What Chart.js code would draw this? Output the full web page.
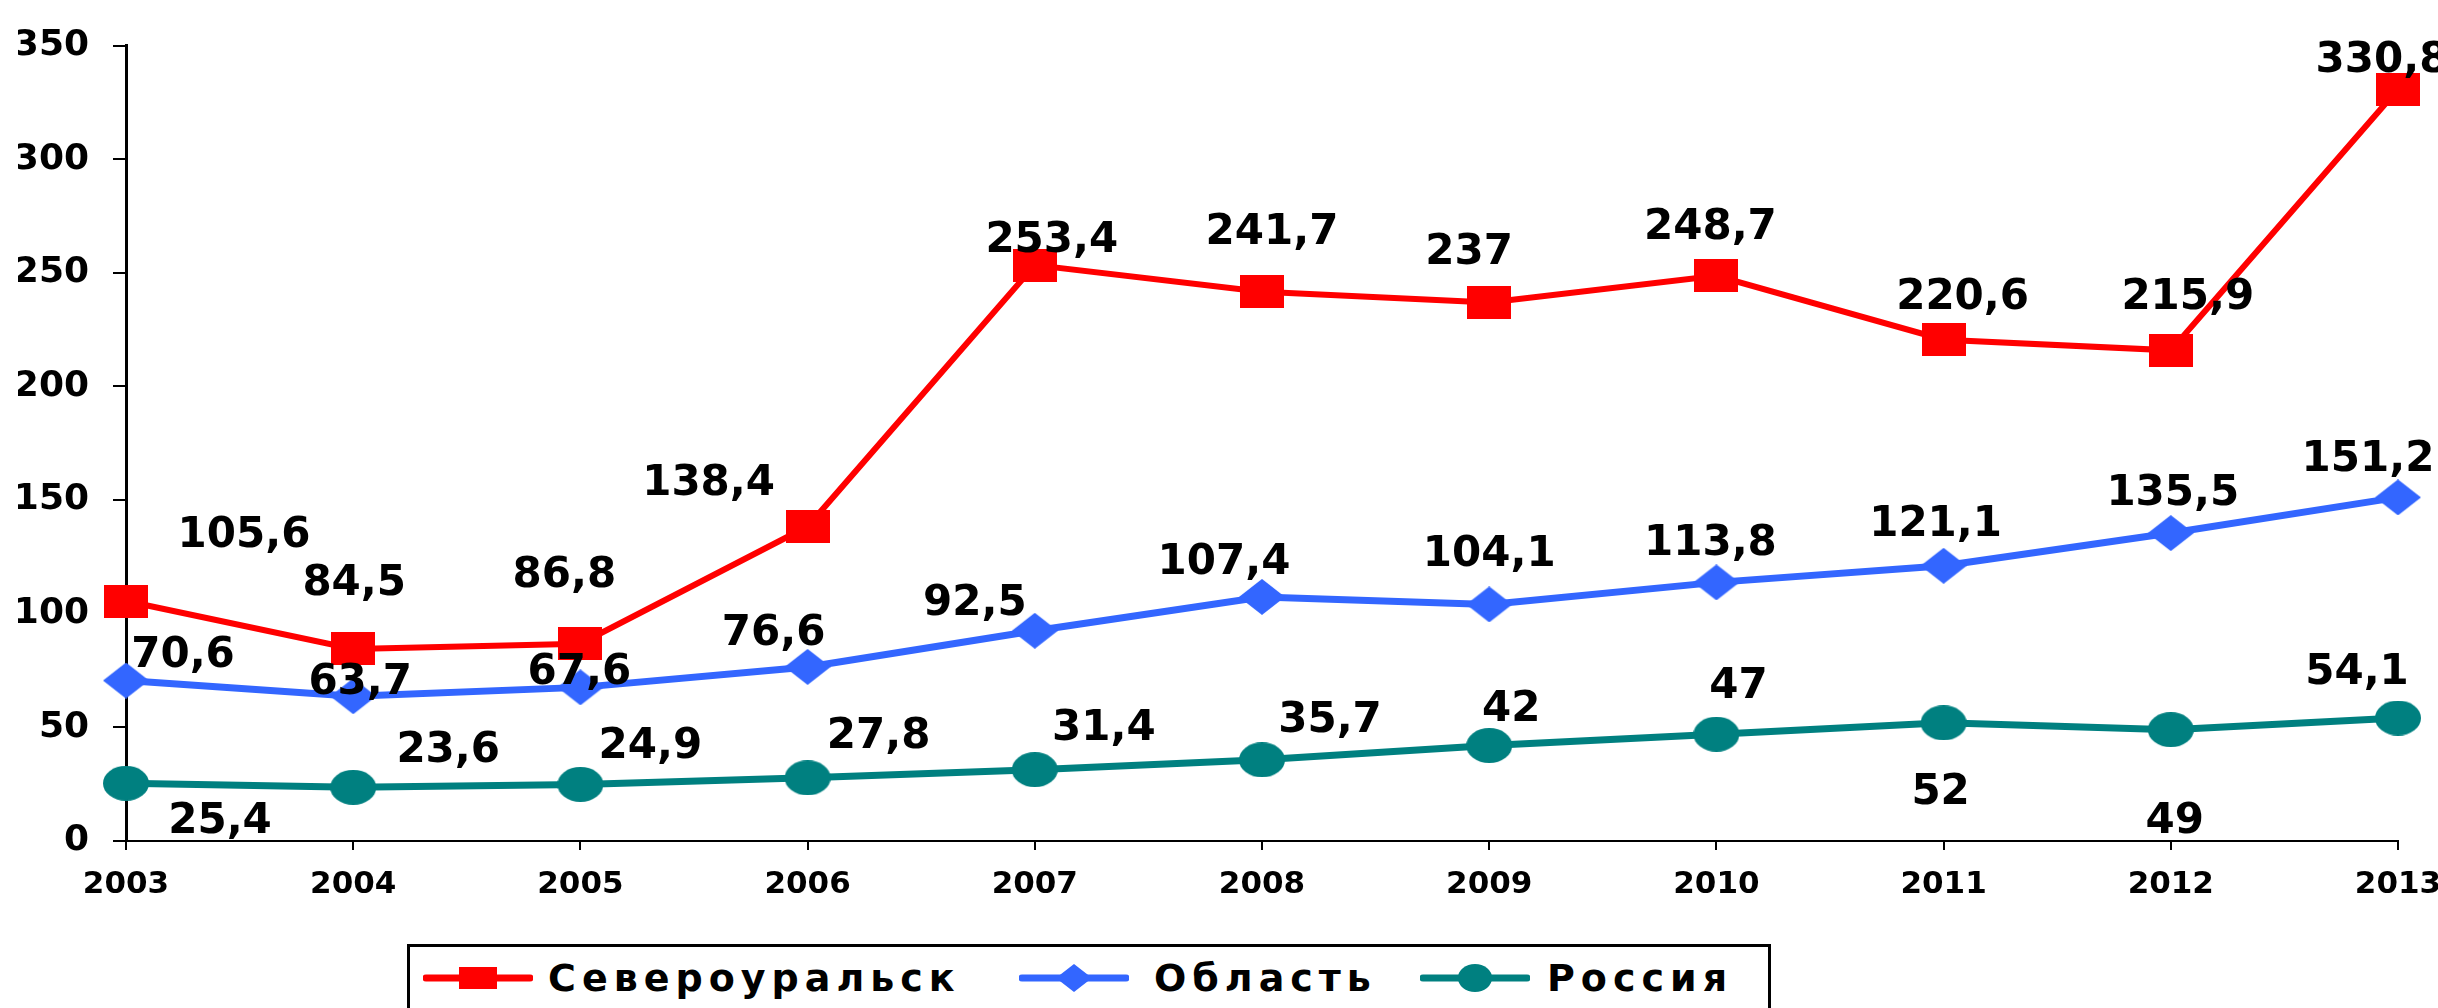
<!DOCTYPE html>
<html lang="ru">
<head>
<meta charset="utf-8">
<script src="https://cdn.jsdelivr.net/npm/chart.js@4.4.1/dist/chart.umd.min.js"></script>
<style>
  html, body { margin: 0; padding: 0; background: #fff; overflow: hidden; }
  #wrap { position: relative; width: 2438px; height: 1008px; overflow: hidden; }
  #chartBox { position: absolute; left: 0; top: 0; width: 2470px; height: 1008px; }
  #legend {
    position: absolute; left: 407px; top: 944px; width: 1358px; height: 100px;
    border: 3px solid #000; background: #fff;
    font: bold 38px "DejaVu Sans", sans-serif; letter-spacing: 6px; color: #000;
  }
  .item { position: absolute; top: 11px; height: 40px; display: flex; align-items: center; white-space: nowrap; }
</style>
</head>
<body>
<div id="wrap">
  <div id="chartBox"><canvas id="lineChart"></canvas></div>
  <div id="legend"></div>
</div>
<script>
// --- data ---
const years = ['2003', '2004', '2005', '2006', '2007', '2008', '2009', '2010', '2011', '2012', '2013'];
const seriesNames = ['Североуральск', 'Область', 'Россия'];
const severouralsk = [105.6, 84.5, 86.8, 138.4, 253.4, 241.7, 237, 248.7, 220.6, 215.9, 330.8];
const oblast = [70.6, 63.7, 67.6, 76.6, 92.5, 107.4, 104.1, 113.8, 121.1, 135.5, 151.2];
const rossiya = [25.4, 23.6, 24.9, 27.8, 31.4, 35.7, 42, 47, 52, 49, 54.1];
const yTickValues = [0, 50, 100, 150, 200, 250, 300, 350];

// label offsets from each point (px), like manually moved labels in the original
const offsRed = [[118,-69],[1,-69],[-16,-72],[-99,-46],[17,-28],[10,-63],[-20,-53],[-6,-52],[19,-46],[17,-56],[-16,-32]];
const offsBlue = [[57,-29],[7,-17],[-1,-18],[-34,-37],[-60,-31],[-38,-38],[0,-53],[-6,-42],[-8,-45],[2,-43],[-30,-41]];
const offsTeal = [[94,35],[95,-40],[70,-41],[71,-45],[69,-45],[68,-43],[22,-40],[22,-51],[-3,66],[4,88],[-41,-49]];
const labelOffsets = [offsRed, offsBlue, offsTeal];

const colors = ['#ff0000', '#3366ff', '#008080'];

// marker images (the original markers are a bit wider than tall)
function makeMarker(kind, color, w, h) {
    const c = document.createElement('canvas');
    c.width = w; c.height = h;
    const g = c.getContext('2d');
    g.fillStyle = color;
    if (kind === 'rect') {
        g.fillRect(0, 0, w, h);
    } else if (kind === 'diamond') {
        g.beginPath();
        g.moveTo(w / 2, 0); g.lineTo(w, h / 2); g.lineTo(w / 2, h); g.lineTo(0, h / 2);
        g.closePath(); g.fill();
    } else {
        g.beginPath();
        g.ellipse(w / 2, h / 2, w / 2, h / 2, 0, 0, Math.PI * 2);
        g.fill();
    }
    return c;
}
const markers = [
    makeMarker('rect', colors[0], 44, 33),
    makeMarker('diamond', colors[1], 46, 36),
    makeMarker('ellipse', colors[2], 46, 35)
];

const fmt = v => String(v).replace('.', ',');

// --- value labels ---
const valueLabels = {
    id: 'valueLabels',
    afterDatasetsDraw(chart) {
        const ctx = chart.ctx;
        ctx.save();
        ctx.font = 'bold 42px "DejaVu Sans"';
        ctx.fillStyle = '#000';
        ctx.textAlign = 'center';
        ctx.textBaseline = 'alphabetic';
        chart.data.datasets.forEach((ds, di) => {
            const meta = chart.getDatasetMeta(di);
            meta.data.forEach((pt, i) => {
                const o = labelOffsets[di][i];
                ctx.fillText(fmt(ds.data[i]), pt.x + o[0], pt.y + o[1] + 15);
            });
        });
        ctx.restore();
    }
};

const allSeries = [severouralsk, oblast, rossiya];
const widths = [6, 7, 7];

new Chart(document.getElementById('lineChart'), {
    type: 'line',
    data: {
        labels: years,
        datasets: allSeries.map((d, i) => ({
            label: seriesNames[i],
            data: d,
            borderColor: colors[i],
            backgroundColor: colors[i],
            borderWidth: widths[i],
            pointStyle: markers[i],
            pointRadius: 20,
            pointHoverRadius: 20,
            tension: 0,
            clip: false
        }))
    },
    options: {
        responsive: true,
        maintainAspectRatio: false,
        animation: false,
        events: [],
        layout: { padding: { left: 18, right: 72, top: 22, bottom: 105 } },
        plugins: {
            legend: { display: false },
            tooltip: { enabled: false }
        },
        scales: {
            x: {
                offset: false,
                afterFit: axis => { axis.height = 62; },
                grid: { display: true, drawOnChartArea: false, drawTicks: true, tickLength: 9, color: '#000', lineWidth: 2 },
                border: { display: true, color: '#000', width: 2 },
                ticks: {
                    color: '#000', padding: 16, maxRotation: 0, autoSkip: false,
                    font: { family: 'DejaVu Sans', weight: 'bold', size: 31 }
                }
            },
            y: {
                min: 0, max: 350,
                afterBuildTicks: axis => { axis.ticks = yTickValues.map(v => ({ value: v })); },
                afterFit: axis => { axis.width = 108; },
                grid: { display: true, drawOnChartArea: false, drawTicks: true, tickLength: 13, color: '#000', lineWidth: 2 },
                border: { display: true, color: '#000', width: 3 },
                ticks: {
                    color: '#000', padding: 24,
                    font: { family: 'DejaVu Sans', weight: 'bold', size: 36 }
                }
            }
        }
    },
    plugins: [valueLabels]
});

// --- legend (boxed, below the chart) ---
const legendLefts = [13, 609, 1010];
const legendTextGaps = [15, 25, 17];
const legendShapes = [
    c => `<rect x="36" y="9" width="38" height="22" fill="${c}"/>`,
    c => `<polygon points="55,6 73,20 55,34 37,20" fill="${c}"/>`,
    c => `<ellipse cx="55" cy="20" rx="17" ry="14" fill="${c}"/>`
];
const legendEl = document.getElementById('legend');
seriesNames.forEach((name, i) => {
    const item = document.createElement('div');
    item.className = 'item';
    item.style.left = legendLefts[i] + 'px';
    item.innerHTML =
        `<svg width="110" height="40"><line x1="3" y1="20" x2="107" y2="20" stroke="${colors[i]}" stroke-width="7" stroke-linecap="round"/>` +
        legendShapes[i](colors[i]) + `</svg><span style="margin-left:${legendTextGaps[i]}px">${name}</span>`;
    legendEl.appendChild(item);
});
</script>
</body>
</html>
